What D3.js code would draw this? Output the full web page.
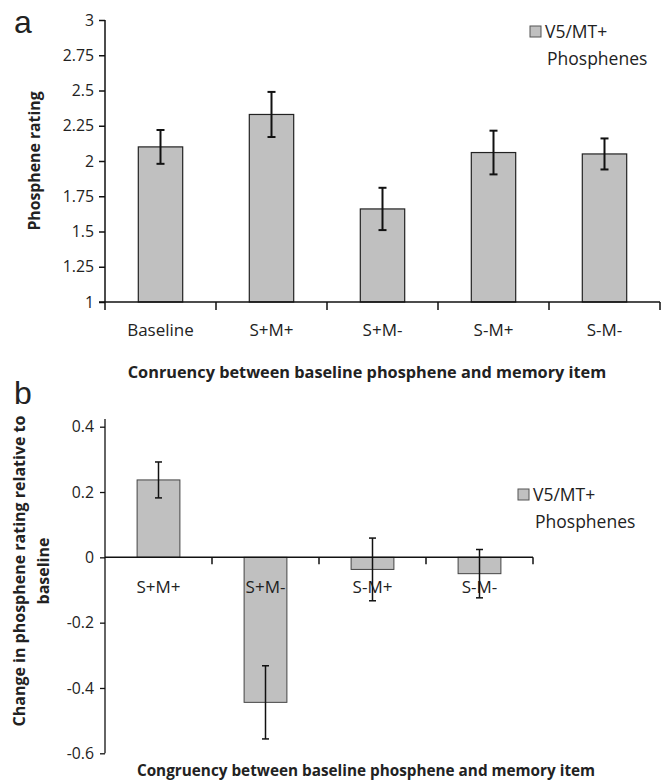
<!DOCTYPE html>
<html>
<head>
<meta charset="utf-8">
<script src="https://cdn.jsdelivr.net/npm/d3@7"></script>
<style>
  body { margin: 0; background: #fff; }
  svg { display: block; }
  text { font-family: "Open Sans", sans-serif; fill: #222; }
</style>
</head>
<body>
<div id="chart"></div>
<script>
// panel a data
const catsA = ["Baseline", "S+M+", "S+M-", "S-M+", "S-M-"];
const valsA = [2.10, 2.33, 1.66, 2.06, 2.05];
const errA = [0.12, 0.16, 0.15, 0.155, 0.11];
const ticksA = [1, 1.25, 1.5, 1.75, 2, 2.25, 2.5, 2.75, 3];

// panel b data
const catsB = ["S+M+", "S+M-", "S-M+", "S-M-"];
const valsB = [0.237, -0.444, -0.037, -0.05];
const errB = [0.055, 0.112, 0.096, 0.074];
const ticksB = [-0.6, -0.4, -0.2, 0, 0.2, 0.4];

const legendText = ["V5/MT+", "Phosphenes"];

const W = 662, H = 780;
const svg = d3.select("#chart").append("svg")
    .attr("width", W)
    .attr("height", H);

const barFill = "#c0c0c0";
const tickFont = 15.8, catFont = 17, legFont = 17.5;

function drawLegend(g, x, y) {
    g.append("rect")
        .attr("x", x).attr("y", y)
        .attr("width", 11).attr("height", 11)
        .attr("fill", barFill)
        .attr("stroke", "#555");
    g.append("text")
        .attr("x", x + 15).attr("y", y + 12)
        .attr("font-size", legFont)
        .text(legendText[0]);
    g.append("text")
        .attr("x", x + 17).attr("y", y + 39)
        .attr("font-size", legFont)
        .text(legendText[1]);
}

// ---------- panel a ----------
let yA = d3.scaleLinear().domain([1, 3]).range([302, 20]);
let xA = d3.scaleBand().domain(catsA).range([105, 660]).paddingInner(0.6).paddingOuter(0.3);

let ga = svg.append("g");

ga.append("text")
    .attr("x", 14).attr("y", 33)
    .style("font-family", "Liberation Sans, Arial, sans-serif")
    .attr("font-size", 32)
    .text("a");

ga.append("g")
    .attr("transform", "translate(105,0)")
    .call(d3.axisLeft(yA).tickValues(ticksA).tickSize(6).tickSizeOuter(0)
        .tickFormat(d => String(d)))
    .call(g => g.selectAll("text").attr("font-size", tickFont).attr("fill", "#333").attr("dx", -2))
    .call(g => g.selectAll("line, path").attr("stroke", "#111").attr("stroke-width", 1.5))
    .call(g => g.select(".domain").attr("d", "M0,20V302"));

ga.selectAll("rect.bar")
    .data(valsA)
    .join("rect")
    .attr("class", "bar")
    .attr("x", (d, i) => xA(catsA[i]))
    .attr("width", xA.bandwidth())
    .attr("y", d => yA(d))
    .attr("height", d => yA(1) - yA(d))
    .attr("fill", barFill)
    .attr("stroke", "#222")
    .attr("stroke-width", 1.2);

// x axis a, ticks between categories
let stepA = (660 - 105) / catsA.length;
let xAxisA = ga.append("g").attr("transform", `translate(0,${yA(1)})`);
xAxisA.append("line")
    .attr("x1", 99).attr("x2", 660)
    .attr("stroke", "#111").attr("stroke-width", 1.5);
xAxisA.selectAll("line.tk")
    .data(d3.range(0, catsA.length + 1))
    .join("line")
    .attr("class", "tk")
    .attr("x1", i => 105 + i * stepA).attr("x2", i => 105 + i * stepA)
    .attr("y1", 0).attr("y2", 8)
    .attr("stroke", "#111").attr("stroke-width", 1.5);
xAxisA.selectAll("text")
    .data(catsA)
    .join("text")
    .attr("x", d => xA(d) + xA.bandwidth() / 2)
    .attr("y", 34)
    .attr("text-anchor", "middle")
    .attr("font-size", catFont)
    .attr("fill", "#333")
    .text(d => d);

// error bars a
let ebA = ga.selectAll("g.eb").data(valsA).join("g").attr("class", "eb");
ebA.each(function (d, i) {
    let cx = xA(catsA[i]) + xA.bandwidth() / 2;
    let g = d3.select(this);
    let hi = yA(d + errA[i]), lo = yA(d - errA[i]);
    g.append("line").attr("x1", cx).attr("x2", cx).attr("y1", hi).attr("y2", lo);
    g.append("line").attr("x1", cx - 4).attr("x2", cx + 4).attr("y1", hi).attr("y2", hi);
    g.append("line").attr("x1", cx - 4).attr("x2", cx + 4).attr("y1", lo).attr("y2", lo);
    g.selectAll("line").attr("stroke", "#111").attr("stroke-width", 2);
});

ga.append("text")
    .attr("transform", "translate(40,161) rotate(-90)")
    .attr("text-anchor", "middle")
    .attr("font-size", 15.8)
    .attr("font-weight", "bold")
    .text("Phosphene rating");

ga.append("text")
    .attr("x", 367).attr("y", 378)
    .attr("text-anchor", "middle")
    .attr("font-size", 16.3)
    .attr("font-weight", "bold")
    .attr("fill", "#111")
    .text("Conruency between baseline phosphene and memory item");

drawLegend(ga, 530, 26);

// ---------- panel b ----------
let yB = d3.scaleLinear().domain([-0.6, 0.4]).range([753.3, 426.7]);
let xB = d3.scaleBand().domain(catsB).range([105, 533]).paddingInner(0.6).paddingOuter(0.3);

let gb = svg.append("g");

gb.append("text")
    .attr("x", 14).attr("y", 404)
    .style("font-family", "Liberation Sans, Arial, sans-serif")
    .attr("font-size", 32)
    .text("b");

gb.append("g")
    .attr("transform", "translate(105,0)")
    .call(d3.axisLeft(yB).tickValues(ticksB).tickSize(5).tickSizeOuter(0)
        .tickFormat(d => String(d)))
    .call(g => g.selectAll("text").attr("font-size", tickFont).attr("fill", "#333").attr("dx", -3))
    .call(g => g.selectAll("line, path").attr("stroke", "#111").attr("stroke-width", 1.3))
    .call(g => g.select(".domain").attr("d", `M0,419V${yB(-0.6)}`));

gb.selectAll("rect.bar")
    .data(valsB)
    .join("rect")
    .attr("class", "bar")
    .attr("x", (d, i) => xB(catsB[i]))
    .attr("width", xB.bandwidth())
    .attr("y", d => yB(Math.max(0, d)))
    .attr("height", d => Math.abs(yB(d) - yB(0)))
    .attr("fill", barFill)
    .attr("stroke", "#444")
    .attr("stroke-width", 1);

let stepB = (533 - 105) / catsB.length;
let xAxisB = gb.append("g").attr("transform", `translate(0,${yB(0)})`);
xAxisB.append("line")
    .attr("x1", 105).attr("x2", 533)
    .attr("stroke", "#111").attr("stroke-width", 1.5);
xAxisB.selectAll("line.tk")
    .data(d3.range(1, catsB.length + 1))
    .join("line")
    .attr("class", "tk")
    .attr("x1", i => 105 + i * stepB).attr("x2", i => 105 + i * stepB)
    .attr("y1", 0).attr("y2", 7)
    .attr("stroke", "#111").attr("stroke-width", 1.5);
xAxisB.selectAll("text")
    .data(catsB)
    .join("text")
    .attr("x", d => xB(d) + xB.bandwidth() / 2)
    .attr("y", 36)
    .attr("text-anchor", "middle")
    .attr("font-size", catFont)
    .attr("fill", "#333")
    .text(d => d);

let ebB = gb.selectAll("g.eb").data(valsB).join("g").attr("class", "eb");
ebB.each(function (d, i) {
    let cx = xB(catsB[i]) + xB.bandwidth() / 2;
    let g = d3.select(this);
    let hi = yB(d + errB[i]), lo = yB(d - errB[i]);
    g.append("line").attr("x1", cx).attr("x2", cx).attr("y1", hi).attr("y2", lo);
    g.append("line").attr("x1", cx - 3.5).attr("x2", cx + 3.5).attr("y1", hi).attr("y2", hi);
    g.append("line").attr("x1", cx - 3.5).attr("x2", cx + 3.5).attr("y1", lo).attr("y2", lo);
    g.selectAll("line").attr("stroke", "#111").attr("stroke-width", 1.5);
});

let ylabB = gb.append("text")
    .attr("transform", "translate(0,571) rotate(-90)")
    .attr("text-anchor", "middle")
    .attr("font-size", 16)
    .attr("font-weight", "bold");
ylabB.append("tspan").attr("x", 0).attr("y", 25).text("Change in phosphene rating relative to");
ylabB.append("tspan").attr("x", 0).attr("y", 49).text("baseline");

gb.append("text")
    .attr("x", 366).attr("y", 776)
    .attr("text-anchor", "middle")
    .attr("font-size", 15.3)
    .attr("font-weight", "bold")
    .attr("fill", "#111")
    .text("Congruency between baseline phosphene and memory item");

drawLegend(gb, 518, 489);
</script>
</body>
</html>
